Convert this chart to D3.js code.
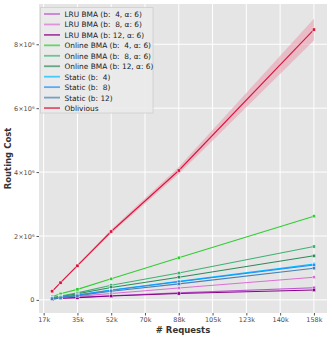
<!DOCTYPE html>
<html><head><meta charset="utf-8">
<script src="https://cdn.jsdelivr.net/npm/d3@7"></script>
<style>body{margin:0;background:#fff}svg{display:block}text{font-family:"DejaVu Sans",sans-serif}</style>
</head><body><svg id="c" width="332" height="338"></svg>
<script>
const requests = [21875, 26250, 35000, 52500, 87500, 157500];
const xTicks = [17500, 35000, 52500, 70000, 87500, 105000, 122500, 140000, 157500];
const xTickLabels = ["17k","35k","52k","70k","88k","105k","123k","140k","158k"];
const yTicks = [0, 2e6, 4e6, 6e6, 8e6];
const yTickLabels = ["0","2×10⁶","4×10⁶","6×10⁶","8×10⁶"];
const seriesNames = ["LRU BMA (b:  4, α: 6)","LRU BMA (b:  8, α: 6)","LRU BMA (b: 12, α: 6)",
  "Online BMA (b:  4, α: 6)","Online BMA (b:  8, α: 6)","Online BMA (b: 12, α: 6)",
  "Static (b:  4)","Static (b:  8)","Static (b: 12)","Oblivious"];
const seriesColors = ["#ba55d3","#da70d6","#8b008b","#32cd32","#3cb371","#2e8b57","#00bfff","#1e90ff","#4682b4","#dc143c"];
const lruB4 = [0.03e6, 0.05e6, 0.08e6, 0.13e6, 0.22e6, 0.38e6];
const lruB8 = [0.03e6, 0.06e6, 0.11e6, 0.20e6, 0.37e6, 0.71e6];
const lruB12 = [0.03e6, 0.05e6, 0.07e6, 0.12e6, 0.20e6, 0.31e6];
const onlineB4 = [0.10e6, 0.19e6, 0.33e6, 0.66e6, 1.32e6, 2.62e6];
const onlineB8 = [0.07e6, 0.12e6, 0.22e6, 0.46e6, 0.84e6, 1.67e6];
const onlineB12 = [0.06e6, 0.10e6, 0.19e6, 0.39e6, 0.71e6, 1.38e6];
const staticB4 = [0.05e6, 0.08e6, 0.15e6, 0.31e6, 0.58e6, 1.12e6];
const staticB8 = [0.05e6, 0.08e6, 0.15e6, 0.30e6, 0.57e6, 1.09e6];
const staticB12 = [0.04e6, 0.07e6, 0.13e6, 0.27e6, 0.50e6, 0.99e6];
const oblivious = [0.27e6, 0.54e6, 1.07e6, 2.14e6, 4.05e6, 8.46e6];
const obliviousLow = [0.25e6, 0.51e6, 1.03e6, 2.08e6, 3.94e6, 8.12e6];
const obliviousHigh = [0.29e6, 0.57e6, 1.11e6, 2.20e6, 4.16e6, 8.80e6];
const seriesValues = [lruB4, lruB8, lruB12, onlineB4, onlineB8, onlineB12, staticB4, staticB8, staticB12, oblivious];

const svg = d3.select("#c");
const L = 39, R = 327, T = 4, B = 313;
const x = d3.scaleLinear().domain([15094, 164281]).range([L, R]);
const y = d3.scaleLinear().domain([-0.41e6, 9.26e6]).range([B, T]);

svg.append("rect").attr("x", L).attr("y", T).attr("width", R - L).attr("height", B - T).attr("fill", "#e5e5e5");
const g = svg.append("g");
xTicks.forEach(t => g.append("line").attr("x1", x(t)).attr("x2", x(t)).attr("y1", T).attr("y2", B).attr("stroke", "#fff").attr("stroke-width", 1));
yTicks.forEach(t => g.append("line").attr("x1", L).attr("x2", R).attr("y1", y(t)).attr("y2", y(t)).attr("stroke", "#fff").attr("stroke-width", 1));

// axes
const xAxis = d3.axisBottom(x).tickValues(xTicks).tickFormat((d, i) => xTickLabels[i]).tickSize(2.5).tickPadding(2);
const xa = svg.append("g").attr("transform", `translate(0,${B})`).call(xAxis);
xa.select(".domain").remove();
xa.selectAll("line").attr("stroke", "#555");
xa.selectAll("text").attr("fill", "#4d4d4d").style("font-size", "6.5px").style("font-family", "DejaVu Sans, sans-serif");
const yAxis = d3.axisLeft(y).tickValues(yTicks).tickFormat((d, i) => yTickLabels[i]).tickSize(2.5).tickPadding(2);
const ya = svg.append("g").attr("transform", `translate(${L},0)`).call(yAxis);
ya.select(".domain").remove();
ya.selectAll("line").attr("stroke", "#555");
ya.selectAll("text").attr("fill", "#4d4d4d").style("font-size", "6.5px").style("font-family", "DejaVu Sans, sans-serif");

// band
const area = d3.area().x((d, i) => x(requests[i])).y0((d, i) => y(obliviousLow[i])).y1((d, i) => y(obliviousHigh[i]));
svg.append("path").datum(obliviousLow).attr("d", area).attr("fill", "#e8a0b0").attr("opacity", 0.6);

const line = d3.line().x((d, i) => x(requests[i])).y(d => y(d));
seriesValues.forEach((vals, si) => {
  svg.append("path").datum(vals).attr("d", line).attr("fill", "none").attr("stroke", seriesColors[si]).attr("stroke-width", 1.1);
  svg.selectAll(null).data(vals).enter().append("rect")
    .attr("x", (d, i) => x(requests[i]) - 1.6).attr("y", d => y(d) - 1.6)
    .attr("width", 3.2).attr("height", 3.2)
    .attr("fill", seriesColors[si]).attr("stroke", "#fff").attr("stroke-width", 0.4);
});

// legend
const lg = svg.append("g");
lg.append("rect").attr("x", 40.5).attr("y", 7.5).attr("width", 112.5).attr("height", 105.5).attr("fill", "#ebebeb").attr("stroke", "#d2d2d2").attr("stroke-width", 1).attr("opacity", 0.9);
seriesNames.forEach((n, i) => {
  const yy = 14 + i * 10.45;
  lg.append("line").attr("x1", 44).attr("x2", 60).attr("y1", yy).attr("y2", yy).attr("stroke", seriesColors[i]).attr("stroke-width", 1.8).attr("opacity", 0.7);
  lg.append("text").attr("x", 64.5).attr("y", yy + 3).text(n).attr("fill", "#1a1a1a").style("font-size", "7.4px").style("white-space", "pre");
});

// titles
svg.append("text").attr("x", (L + R) / 2).attr("y", 333).attr("text-anchor", "middle").text("# Requests")
  .attr("fill", "#333").style("font-size", "8.5px").style("font-weight", "bold");
svg.append("text").attr("transform", `translate(11,${(T + B) / 2}) rotate(-90)`).attr("text-anchor", "middle").text("Routing Cost")
  .attr("fill", "#333").style("font-size", "8.5px").style("font-weight", "bold");
</script></body></html>
